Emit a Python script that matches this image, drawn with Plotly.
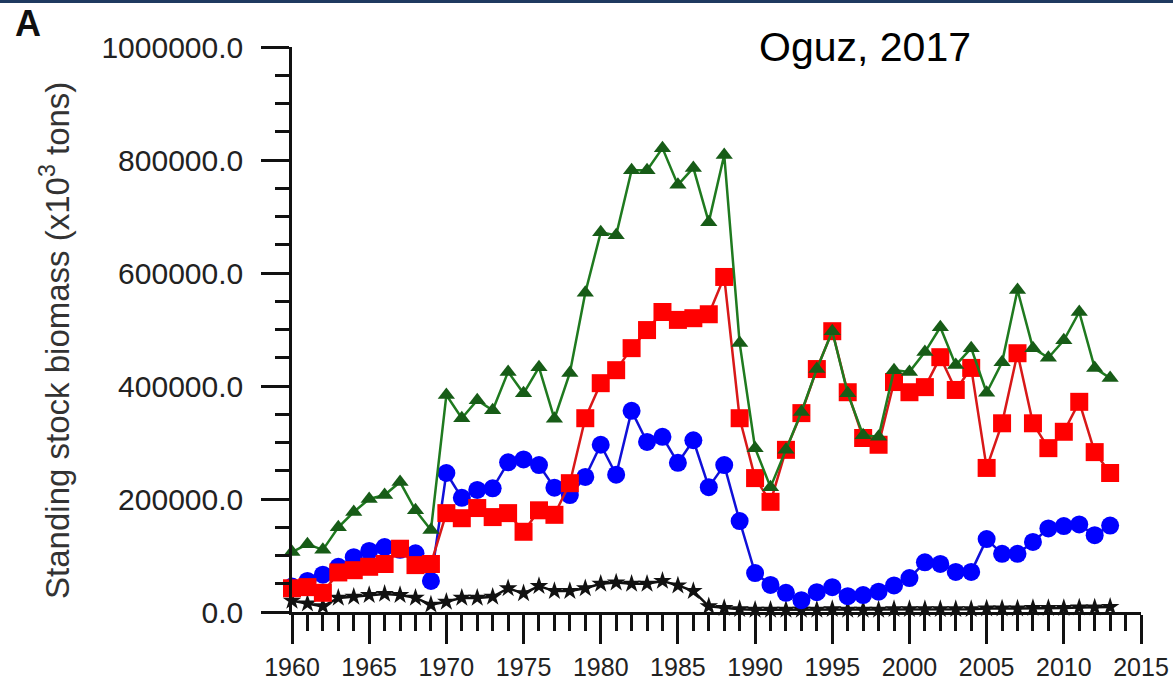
import plotly.graph_objects as go

# Annual standing stock biomass, 1960-2013 (x10^3 tons)
years = list(range(1960, 2014))

total = [106000, 120000, 110000, 150000, 177000, 200000, 207000, 230000, 180000, 145000,
         384000, 343000, 375000, 357000, 425000, 387000, 433000, 342000, 423000, 565000,
         672000, 667000, 782000, 782000, 821000, 756000, 786000, 690000, 809000, 476000,
         290000, 221000, 287000, 354000, 430000, 497000, 387000, 313000, 310000, 428000,
         425000, 460000, 504000, 437000, 467000, 388000, 442000, 570000, 467000, 450000,
         481000, 531000, 432000, 414000]

red_series = [42000, 44000, 34000, 70000, 74000, 80000, 85000, 112000, 83000, 85000,
              175000, 166000, 184000, 168000, 175000, 142000, 180000, 172000, 228000, 343000,
              405000, 428000, 467000, 499000, 531000, 517000, 520000, 527000, 593000, 343000,
              237000, 195000, 287000, 352000, 430000, 497000, 389000, 308000, 296000, 407000,
              389000, 398000, 451000, 393000, 432000, 255000, 334000, 458000, 334000, 290000,
              319000, 372000, 283000, 246000]

blue_series = [45000, 55000, 66000, 80000, 97000, 108000, 115000, 110000, 104000, 55000,
               246000, 202000, 216000, 219000, 265000, 270000, 260000, 220000, 207000, 239000,
               296000, 243000, 356000, 301000, 310000, 264000, 304000, 221000, 260000, 161000,
               69000, 48000, 34000, 21000, 35000, 44000, 28000, 30000, 36000, 47000,
               60000, 88000, 85000, 71000, 71000, 129000, 103000, 103000, 124000, 148000,
               152000, 155000, 136000, 153000]

black_series = [20000, 15000, 10000, 25000, 27000, 30000, 32000, 30000, 25000, 13000,
                18000, 25000, 25000, 27000, 42000, 33000, 46000, 37000, 37000, 42000,
                50000, 52000, 50000, 50000, 55000, 47000, 37000, 10000, 7000, 5000,
                4000, 4000, 4000, 4000, 4000, 5000, 4000, 4000, 4000, 5000,
                5000, 5000, 5000, 5000, 5000, 6000, 6000, 6000, 7000, 7000,
                7000, 8000, 8000, 9000]

y_title = "Standing stock biomass (x10<sup>3</sup> tons)"
ref_label = "Oguz, 2017"
panel_label = "A"

fig = go.Figure()

fig.add_trace(go.Scatter(
    x=years, y=black_series, mode="lines+markers",
    line=dict(color="#111111", width=2.5),
    marker=dict(symbol="star", size=14, color="#111111"),
    cliponaxis=False, showlegend=False))

fig.add_trace(go.Scatter(
    x=years, y=blue_series, mode="lines+markers",
    line=dict(color="#1010d8", width=2.5),
    marker=dict(symbol="circle", size=18, color="#0000ff"),
    cliponaxis=False, showlegend=False))

fig.add_trace(go.Scatter(
    x=years, y=red_series, mode="lines+markers",
    line=dict(color="#d81818", width=2.5),
    marker=dict(symbol="square", size=18, color="#ff0000"),
    cliponaxis=False, showlegend=False))

fig.add_trace(go.Scatter(
    x=years, y=total, mode="lines+markers",
    line=dict(color="#1f7a1f", width=2.5),
    marker=dict(symbol="triangle-up", size=15, color="#175c17"),
    cliponaxis=False, showlegend=False))

fig.update_layout(
    width=1173, height=685,
    margin=dict(l=292, r=32, t=47, b=73, autoexpand=False),
    paper_bgcolor="white", plot_bgcolor="white",
    font=dict(family="Liberation Sans, Arial, sans-serif", color="#222222"),
    xaxis=dict(
        range=[1960, 2015], showgrid=False, zeroline=False, automargin=False,
        showline=True, linecolor="#111111", linewidth=2.5,
        ticks="outside", tickmode="linear", tick0=1960, dtick=5,
        ticklen=29, tickwidth=2.5, tickcolor="#111111",
        tickfont=dict(size=25, color="#222222"), ticklabelstandoff=2,
        minor=dict(ticks="outside", dtick=1, tick0=1960, ticklen=16,
                   tickwidth=2.5, tickcolor="#111111"),
    ),
    yaxis=dict(
        range=[0, 1000000], showgrid=False, zeroline=False, automargin=False,
        showline=True, linecolor="#111111", linewidth=2.5,
        ticks="outside", tickmode="linear", tick0=0, dtick=200000,
        tickformat=".1f", ticklen=28, tickwidth=2.5, tickcolor="#111111",
        tickfont=dict(size=30, color="#222222"), ticklabelstandoff=12,
        minor=dict(ticks="outside", dtick=50000, ticklen=14,
                   tickwidth=2.5, tickcolor="#111111"),
    ),
    shapes=[dict(type="rect", xref="paper", yref="paper",
                 x0=-0.35, x1=1.05, y0=1.0779, y1=1.09,
                 fillcolor="#1f3a60", line=dict(width=0), layer="above")],
    annotations=[
        dict(text=y_title, xref="paper", yref="paper", x=-0.279, y=0.48,
             textangle=-90, showarrow=False, xanchor="center", yanchor="middle",
             font=dict(size=33, color="#333333")),
        dict(text=ref_label, xref="paper", yref="paper", x=0.675, y=1.0,
             showarrow=False, xanchor="center", yanchor="middle",
             font=dict(size=41, color="#000000")),
        dict(text="<b>" + panel_label + "</b>", xref="paper", yref="paper",
             x=-0.311, y=1.042, showarrow=False, xanchor="center", yanchor="middle",
             font=dict(size=36, color="#111111")),
    ],
)

fig.write_html("out.html")
